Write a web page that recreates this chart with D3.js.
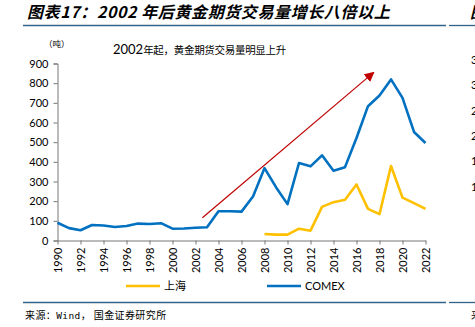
<!DOCTYPE html>
<html>
<head>
<meta charset="utf-8">
<script src="https://cdn.jsdelivr.net/npm/d3@7"></script>
<style>
	body { margin: 0; background: #fff; }
	svg { display: block; }
	text { fill: #000; }
</style>
</head>
<body>
<svg id="chart" width="475" height="327"></svg>
<script>
(function(){
	'use strict';

	// 年份
	var years = d3.range(1990, 2023);

	// COMEX 黄金期货成交量（吨）
	var comex = [90, 63, 52, 79, 76, 69, 74, 86, 84, 88, 60, 61, 65, 67, 149, 149, 147, 224,
		368, 271, 185, 394, 377, 433, 355, 373, 521, 683, 737, 819, 725, 552, 496];

	// 上海期货交易所黄金成交量（吨），2008 年起
	var shYears = d3.range(2008, 2023);
	var shanghai = [33, 30, 30, 60, 50, 171, 195, 207, 285, 161, 134, 379, 218, 190, 161];

	var yTicks = [0, 100, 200, 300, 400, 500, 600, 700, 800, 900];
	var xTicks = d3.range(1990, 2023, 2);

	// 趋势箭头起止 [年份, 吨]
	var trend = [[2002.6, 116], [2017.5, 855]];

	// 右侧相邻图表露出的刻度
	var nextTicks = [350, 300, 250, 200, 150, 100];

	var numFont = 'Lato, "Open Sans", sans-serif';
	var cjkFont = '"Noto Sans CJK SC", sans-serif';

	var svg = d3.select('#chart');

	var x = d3.scaleLinear().domain([1990, 2022]).range([57.5, 425.5]);
	var y = d3.scaleLinear().domain([0, 900]).range([240.5, 63.5]);

	// 标题
	svg.append('text')
		.attr('x', 27).attr('y', 18)
		.attr('font-family', cjkFont)
		.attr('font-size', 16)
		.attr('font-weight', 'bold')
		.attr('font-style', 'italic')
		.attr('letter-spacing', 0.6)
		.text('图表17：2002 年后黄金期货交易量增长八倍以上');

	svg.append('text')
		.attr('x', 470).attr('y', 18)
		.attr('font-family', cjkFont)
		.attr('font-size', 16)
		.attr('font-weight', 'bold')
		.attr('font-style', 'italic')
		.text('图');

	// 上下分隔线
	[25.5, 302.5].forEach(function(ly){
		svg.append('line')
			.attr('x1', 23).attr('x2', 446).attr('y1', ly).attr('y2', ly)
			.attr('stroke', '#31648c').attr('stroke-width', 1.3);
		svg.append('line')
			.attr('x1', 449).attr('x2', 475).attr('y1', ly).attr('y2', ly)
			.attr('stroke', '#31648c').attr('stroke-width', 1.3);
	});

	// 单位与副标题
	svg.append('text')
		.attr('x', 44).attr('y', 47)
		.attr('font-family', cjkFont)
		.attr('font-size', 8.5)
		.attr('fill', '#333')
		.text('（吨）');

	var sub = svg.append('text')
		.attr('x', 113).attr('y', 54)
		.attr('font-family', cjkFont);
	sub.append('tspan').attr('font-size', 13).attr('font-family', numFont).text('2002');
	sub.append('tspan').attr('font-size', 10.5).attr('letter-spacing', -0.3).text('年起，黄金期货交易量明显上升');

	// 坐标轴
	var yAxis = svg.append('g')
		.attr('transform', 'translate(57.5,0)')
		.call(d3.axisLeft(y).tickValues(yTicks).tickSize(4).tickPadding(5));

	var xAxis = svg.append('g')
		.attr('transform', 'translate(0,240.5)')
		.call(d3.axisBottom(x).tickValues(xTicks).tickFormat(d3.format('d')).tickSize(4).tickSizeOuter(0));

	[yAxis, xAxis].forEach(function(g){
		g.select('.domain').attr('stroke', '#777');
		g.selectAll('.tick line').attr('stroke', '#777');
		g.selectAll('.tick text')
			.attr('font-family', numFont)
			.attr('font-size', 11)
			.attr('fill', '#000');
	});

	xAxis.selectAll('.tick text')
		.attr('transform', 'rotate(-90)')
		.attr('text-anchor', 'end')
		.attr('x', -7)
		.attr('y', 0)
		.attr('dy', '0.35em');

	// 折线
	var line = d3.line()
		.x(function(d){ return x(d[0]); })
		.y(function(d){ return y(d[1]); });

	svg.append('path')
		.datum(years.map(function(yr, i){ return [yr, comex[i]]; }))
		.attr('d', line)
		.attr('fill', 'none')
		.attr('stroke', '#0070c0')
		.attr('stroke-width', 2.6)
		.attr('stroke-linejoin', 'round');

	svg.append('path')
		.datum(shYears.map(function(yr, i){ return [yr, shanghai[i]]; }))
		.attr('d', line)
		.attr('fill', 'none')
		.attr('stroke', '#ffc000')
		.attr('stroke-width', 2.6)
		.attr('stroke-linejoin', 'round');

	// 趋势箭头
	svg.append('defs').append('marker')
		.attr('id', 'arrow')
		.attr('viewBox', '0 0 10 10')
		.attr('refX', 9).attr('refY', 5)
		.attr('markerWidth', 10).attr('markerHeight', 10)
		.attr('markerUnits', 'userSpaceOnUse')
		.attr('orient', 'auto')
		.append('path')
			.attr('d', 'M0,0L10,5L0,10Z')
			.attr('fill', '#c00000');

	svg.append('line')
		.attr('x1', x(trend[0][0])).attr('y1', y(trend[0][1]))
		.attr('x2', x(trend[1][0])).attr('y2', y(trend[1][1]))
		.attr('stroke', '#c00000')
		.attr('stroke-width', 1.2)
		.attr('marker-end', 'url(#arrow)');

	// 图例
	var legend = [
		{ name: '上海', color: '#ffc000', x: 126, font: cjkFont, size: 11 },
		{ name: 'COMEX', color: '#0070c0', x: 267, font: numFont, size: 11 }
	];
	var lg = svg.selectAll('.legend')
		.data(legend)
		.enter()
		.append('g')
			.attr('class', 'legend')
			.attr('transform', (d) => 'translate(' + d.x + ',286)');
	lg.append('line')
		.attr('x1', 0).attr('x2', 34)
		.attr('stroke', (d) => d.color)
		.attr('stroke-width', 2.6);
	lg.append('text')
		.attr('x', 38).attr('dy', '0.36em')
		.attr('font-family', (d) => d.font)
		.attr('font-size', (d) => d.size)
		.attr('fill', '#222')
		.text((d) => d.name);

	// 数据来源
	var src = svg.append('text')
		.attr('x', 25).attr('y', 319)
		.attr('font-family', cjkFont)
		.attr('font-size', 10)
		.attr('letter-spacing', 0.4)
		.attr('fill', '#222');
	src.append('tspan').text('来源：');
	src.append('tspan').attr('font-family', '"DejaVu Sans Mono", monospace').attr('font-size', 9.5).text('Wind');
	src.append('tspan').text('， 国金证券研究所');

	svg.append('text')
		.attr('x', 471).attr('y', 319)
		.attr('font-family', cjkFont)
		.attr('font-size', 10)
		.attr('fill', '#222')
		.text('来');

	// 相邻图表刻度
	var yNext = d3.scaleLinear().domain([100, 350]).range([187, 60]);
	svg.selectAll('.next-tick')
		.data(nextTicks)
		.enter()
		.append('text')
			.attr('class', 'next-tick')
			.attr('x', 471)
			.attr('y', (d) => yNext(d))
			.attr('dy', '0.35em')
			.attr('font-family', numFont)
			.attr('font-size', 11)
			.text((d) => d);

})();
</script>
</body>
</html>
